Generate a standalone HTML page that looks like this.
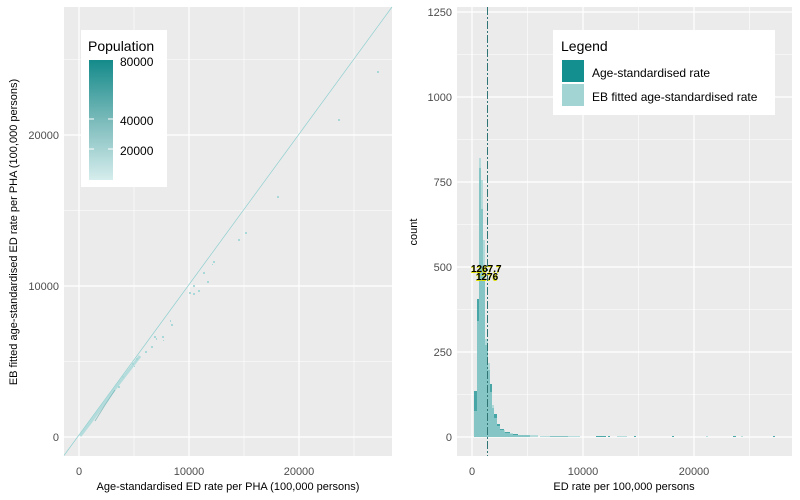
<!DOCTYPE html>
<html><head><meta charset="utf-8"><style>body{margin:0;background:#fff}svg{display:block;font-family:"Liberation Sans",sans-serif}</style></head><body>
<svg width="800" height="500" viewBox="0 0 800 500">
<!-- LEFT PANEL -->
<rect x="64" y="7" width="328" height="449" fill="#ebebeb"/>
<g stroke="#fff" stroke-width="0.6">
<line x1="134" y1="7" x2="134" y2="456"/><line x1="244" y1="7" x2="244" y2="456"/><line x1="354" y1="7" x2="354" y2="456"/>
<line x1="64" y1="361.5" x2="392" y2="361.5"/><line x1="64" y1="210.5" x2="392" y2="210.5"/><line x1="64" y1="59.5" x2="392" y2="59.5"/>
</g>
<g stroke="#fff" stroke-width="1.2">
<line x1="79" y1="7" x2="79" y2="456"/><line x1="189" y1="7" x2="189" y2="456"/><line x1="299" y1="7" x2="299" y2="456"/>
<line x1="64" y1="437" x2="392" y2="437"/><line x1="64" y1="286" x2="392" y2="286"/><line x1="64" y1="135" x2="392" y2="135"/>
</g>
<line x1="64" y1="455.5" x2="392" y2="7" stroke="#8fcfcf" stroke-width="0.7"/>
<polyline points="80,436 90,423 100,409 110,395 120,382 130,369 140,356" fill="none" stroke="#a8d8d8" stroke-width="3" opacity="0.8"/>
<polyline points="95,421 105,405 115,390" fill="none" stroke="#5fabab" stroke-width="1" opacity="0.6"/>
<g fill="#a8d8d8">
<rect x="132" y="363" width="2" height="2"/><rect x="136" y="358" width="2" height="2"/><rect x="134" y="366" width="1" height="1"/><rect x="122" y="376" width="2" height="2"/><rect x="118" y="386" width="2" height="2"/><rect x="108" y="400" width="1" height="1"/>
<rect x="145" y="351" width="2" height="2"/><rect x="151" y="346" width="2" height="2"/><rect x="154" y="336" width="2" height="2"/><rect x="156" y="338" width="1" height="2"/><rect x="162" y="336" width="2" height="2"/><rect x="163" y="340" width="1" height="1"/><rect x="171" y="324" width="2" height="2"/><rect x="170" y="320" width="1" height="2"/>
<rect x="189" y="292" width="2" height="2"/><rect x="193" y="293" width="2" height="2"/><rect x="198" y="290" width="2" height="2"/><rect x="193" y="285" width="2" height="2"/><rect x="203" y="272" width="2" height="2"/><rect x="207" y="281" width="2" height="2"/><rect x="213" y="261" width="2" height="2"/><rect x="212" y="264" width="1" height="1"/><rect x="238" y="239" width="2" height="2"/><rect x="245" y="232" width="2" height="2"/><rect x="277" y="196" width="2" height="2"/><rect x="338" y="119" width="2" height="2"/><rect x="377" y="71" width="2" height="2"/>
</g>
<g font-size="11" fill="#4d4d4d" text-anchor="end">
<text x="59" y="441">0</text><text x="59" y="290">10000</text><text x="59" y="139">20000</text></g>
<g font-size="11" fill="#4d4d4d" text-anchor="middle">
<text x="79" y="475">0</text><text x="189" y="475">10000</text><text x="299" y="475">20000</text></g>
<text x="228" y="490" font-size="11" text-anchor="middle">Age-standardised ED rate per PHA (100,000 persons)</text>
<text transform="translate(17,232) rotate(-90)" font-size="11" text-anchor="middle">EB fitted age-standardised ED rate per PHA (100,000 persons)</text>
<rect x="81" y="30" width="86" height="157" fill="#fff"/>
<text x="88" y="51" font-size="14">Population</text>
<defs><linearGradient id="g" x1="0" y1="0" x2="0" y2="1"><stop offset="0" stop-color="#148a8a"/><stop offset="0.5" stop-color="#7ababa"/><stop offset="1" stop-color="#d6eded"/></linearGradient></defs>
<rect x="89" y="60" width="24" height="120" fill="url(#g)"/>
<g stroke="#fff" stroke-width="1"><line x1="89" y1="119" x2="94" y2="119"/><line x1="108" y1="119" x2="113" y2="119"/><line x1="89" y1="149" x2="94" y2="149"/><line x1="108" y1="149" x2="113" y2="149"/></g>
<g font-size="12"><text x="120" y="66">80000</text><text x="120" y="125">40000</text><text x="120" y="155">20000</text></g>
<!-- RIGHT PANEL -->
<rect x="457" y="7" width="335" height="449" fill="#ebebeb"/>
<g stroke="#fff" stroke-width="0.6">
<line x1="527.5" y1="7" x2="527.5" y2="456"/><line x1="638.5" y1="7" x2="638.5" y2="456"/><line x1="749.5" y1="7" x2="749.5" y2="456"/>
<line x1="457" y1="394.5" x2="792" y2="394.5"/><line x1="457" y1="309.5" x2="792" y2="309.5"/><line x1="457" y1="224.5" x2="792" y2="224.5"/><line x1="457" y1="139.5" x2="792" y2="139.5"/><line x1="457" y1="54.5" x2="792" y2="54.5"/>
</g>
<g stroke="#fff" stroke-width="1.2">
<line x1="472" y1="7" x2="472" y2="456"/><line x1="583" y1="7" x2="583" y2="456"/><line x1="694" y1="7" x2="694" y2="456"/>
<line x1="457" y1="437" x2="792" y2="437"/><line x1="457" y1="352" x2="792" y2="352"/><line x1="457" y1="267" x2="792" y2="267"/><line x1="457" y1="182" x2="792" y2="182"/><line x1="457" y1="97" x2="792" y2="97"/><line x1="457" y1="12" x2="792" y2="12"/>
</g>
<g fill="#148f8f" opacity="0.75">
<rect x="474" y="391" width="3" height="46"/><rect x="477" y="299" width="2" height="138"/><rect x="479" y="168" width="2" height="269"/><rect x="481" y="209" width="2" height="228"/><rect x="483" y="270" width="2" height="167"/><rect x="485" y="345" width="3" height="92"/><rect x="488" y="370" width="2" height="67"/><rect x="490" y="384" width="2" height="53"/><rect x="492" y="408" width="2" height="29"/><rect x="494" y="414" width="3" height="23"/><rect x="497" y="424" width="3" height="13"/><rect x="500" y="429" width="4" height="8"/><rect x="504" y="432" width="6" height="5"/><rect x="510" y="434" width="8" height="3"/><rect x="518" y="435" width="12" height="2"/><rect x="550" y="436" width="18" height="1"/><rect x="596" y="436" width="10" height="1"/><rect x="608" y="436" width="2" height="1"/><rect x="634" y="436" width="2" height="1"/><rect x="672" y="436" width="2" height="1"/><rect x="733" y="436" width="3" height="1"/><rect x="773" y="436" width="2" height="1"/>
</g>
<g fill="#9fd3d3" opacity="0.7">
<rect x="474" y="411" width="3" height="26"/><rect x="477" y="321" width="2" height="116"/><rect x="479" y="158" width="2" height="279"/><rect x="481" y="180" width="2" height="257"/><rect x="483" y="240" width="2" height="197"/><rect x="485" y="339" width="3" height="98"/><rect x="488" y="363" width="2" height="74"/><rect x="490" y="392" width="2" height="45"/><rect x="492" y="405" width="2" height="32"/><rect x="494" y="418" width="3" height="19"/><rect x="497" y="426" width="3" height="11"/><rect x="500" y="430" width="5" height="7"/><rect x="505" y="433" width="8" height="4"/><rect x="513" y="435" width="25" height="2"/><rect x="540" y="436" width="40" height="1"/><rect x="617" y="436" width="10" height="1"/><rect x="706" y="436" width="2" height="1"/><rect x="741" y="436" width="2" height="1"/>
</g>
<line x1="487.5" y1="7" x2="487.5" y2="456" stroke="#2f7575" stroke-width="1" stroke-dasharray="8,2,2,2"/>
<text x="470.5" y="273" font-size="10" font-weight="bold" fill="#dd0">1267.7</text>
<text x="471" y="272" font-size="10" font-weight="bold">1267.7</text>
<text x="475.5" y="281" font-size="10" font-weight="bold" fill="#dd0">1276</text>
<text x="476" y="280" font-size="10" font-weight="bold">1276</text>
<g font-size="11" fill="#4d4d4d" text-anchor="end">
<text x="452" y="441">0</text><text x="452" y="356">250</text><text x="452" y="271">500</text><text x="452" y="186">750</text><text x="452" y="101">1000</text><text x="452" y="16">1250</text></g>
<g font-size="11" fill="#4d4d4d" text-anchor="middle">
<text x="472" y="475">0</text><text x="583" y="475">10000</text><text x="694" y="475">20000</text></g>
<text x="624" y="490" font-size="11" text-anchor="middle">ED rate per 100,000 persons</text>
<text transform="translate(417,232) rotate(-90)" font-size="11" text-anchor="middle">count</text>
<rect x="553" y="30" width="222" height="85" fill="#fff"/>
<text x="561" y="51" font-size="14">Legend</text>
<rect x="562" y="60" width="22" height="22" fill="#148f8f"/>
<rect x="562" y="84" width="22" height="22" fill="#a2d4d4"/>
<g font-size="12"><text x="592" y="77">Age-standardised rate</text><text x="592" y="101">EB fitted age-standardised rate</text></g>
</svg>
</body></html>
